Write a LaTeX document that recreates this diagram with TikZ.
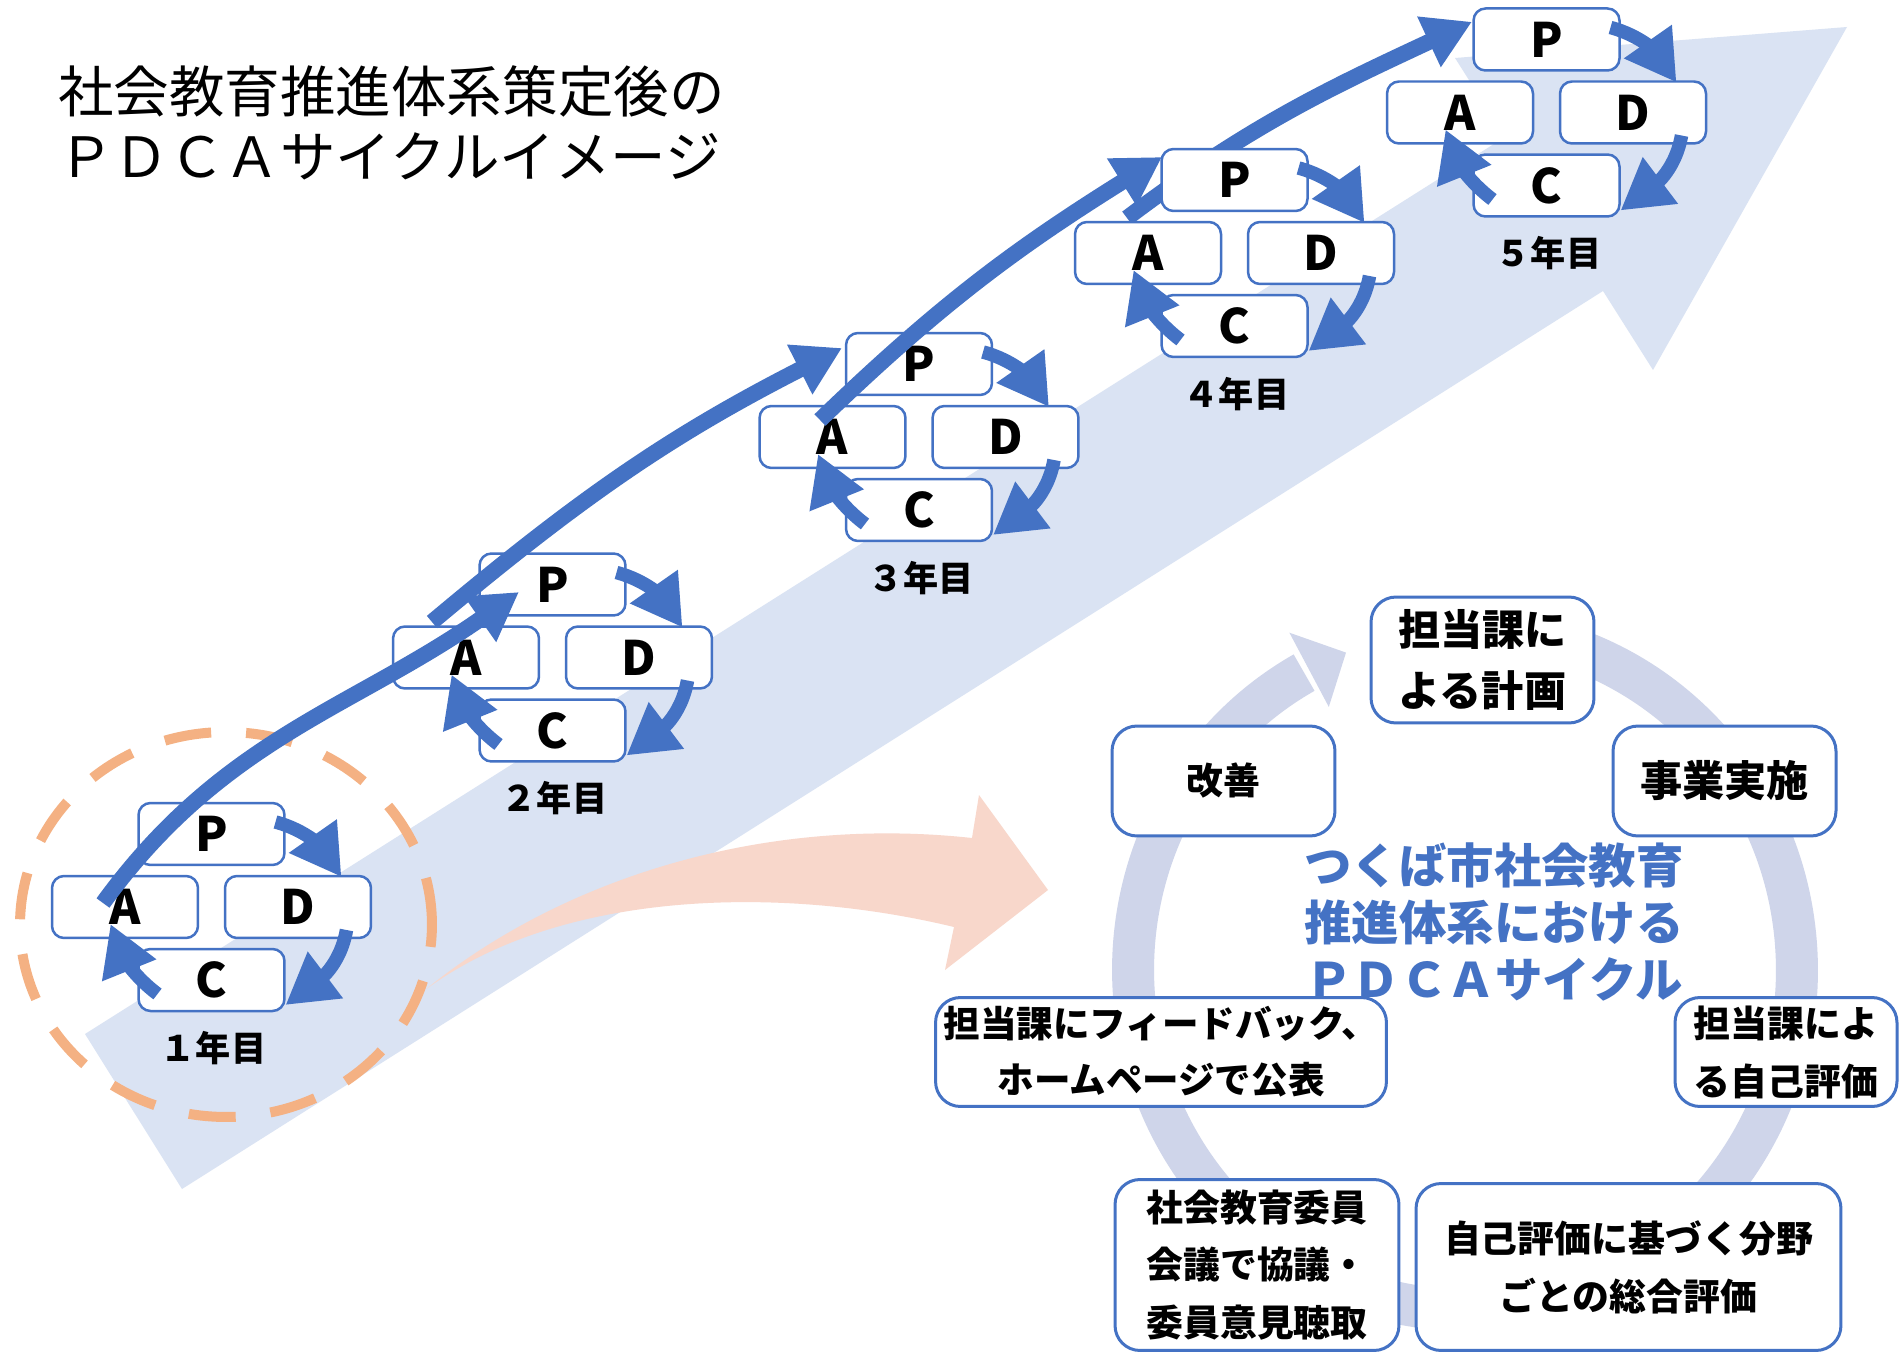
\documentclass[tikz,border=0pt]{standalone}
\usepackage{fontspec}
\setmainfont{Noto Sans CJK JP}
\usetikzlibrary{arrows.meta,calc}
\definecolor{arrblue}{HTML}{4472C4}
\definecolor{palebl}{HTML}{DAE3F3}
\definecolor{ringcol}{HTML}{CFD5EA}
\definecolor{dashor}{HTML}{F4B183}
\definecolor{salmon}{HTML}{F8D7CB}
\pgfdeclarelayer{back}
\pgfdeclarelayer{mid}
\pgfsetlayers{back,mid,main}
\newcommand{\fsz}[2]{\fontsize{#1}{#2}\selectfont}
\newcommand{\yearcluster}[4]{%
  \node[pbox] (P#1) at (#2,#3) {P};
  \node[pbox] (A#1) at ($(P#1.center)+(-86.5,-73)$) {A};
  \node[pbox] (D#1) at ($(P#1.center)+(86.5,-73)$) {D};
  \node[pbox] (C#1) at ($(P#1.center)+(0,-146)$) {C};
  \node[ylab] (L#1) at ($(P#1.center)+(2,-214)$) {#4};
}
\newcommand{\yeararrows}[1]{%
  \draw[sarr] ($(P#1.center)+(64,12)$) to[out=-15,in=125] ($(P#1.center)+(130,-43)$);
  \draw[sarr] ($(P#1.center)+(135,-96)$) to[out=-100,in=37] ($(P#1.center)+(74,-171)$);
  \draw[sarr] ($(P#1.center)+(-54,-160)$) to[out=143,in=-68] ($(P#1.center)+(-101,-90)$);
}
\begin{document}
\begin{tikzpicture}[x=0.02cm,y=0.02cm,
  pbox/.style={draw=arrblue, line width=0.05cm, fill=white, rounded corners=0.24cm,
    minimum width=2.92cm, minimum height=1.24cm, inner sep=0, font=\fsz{27}{27}\bfseries},
  ylab/.style={font=\fsz{20}{20}\bfseries, inner sep=0},
  sarr/.style={arrblue, line width=0.27cm, -{Triangle[length=1.0cm,width=1.1cm]}},
  barr/.style={arrblue, line width=0.32cm, -{Triangle[length=0.95cm,width=1.05cm]}},
  rbox/.style={draw=arrblue, line width=0.06cm, fill=white, rounded corners=0.5cm,
    inner sep=0, align=center}]
\useasboundingbox (0,0) rectangle (1903,-1354);

\begin{pgfonlayer}{back}
  \fill[white] (0,0) rectangle (1903,-1354);
  % big pale arrow
  \fill[palebl] (85,-1034) -- (1505,-137) -- (1455,-58) -- (1847,-27)
     -- (1653,-370) -- (1603,-291) -- (182,-1189) -- cycle;
  % dashed circle
  \draw[dashor, line width=0.2cm, dash pattern=on 0.94cm off 0.7cm]
     (226,-924.5) ellipse [x radius=4.12cm, y radius=3.85cm];
  % salmon arrow
  \fill[salmon] (425,-990) .. controls (560,-880) and (760,-815) .. (972,-838)
     -- (979,-795) -- (1048,-890) -- (945,-970) -- (954,-927)
     .. controls (780,-885) and (560,-890) .. (425,-990) -- cycle;
  % ring
  \draw[ringcol, line width=0.84cm] (1436.06,-631.3)
     arc[start angle=95, end angle=-241, x radius=6.64cm, y radius=6.8cm];
  \fill[ringcol] (1289.4,-632.7) -- (1346.0,-652.6) -- (1328.8,-706.9) -- cycle;
\end{pgfonlayer}

% title
\node[font=\fsz{31.6}{37}, align=left, anchor=west, inner sep=0] (title)
  at (58,-122.5) {社会教育推進体系策定後の\\ＰＤＣＡサイクルイメージ};

% right cycle boxes
\node[rbox, minimum width=4.46cm, minimum height=2.52cm, font=\fsz{24}{35}\bfseries]
  (B1) at (1482.5,-660) {担当課に\\よる計画};
\node[rbox, minimum width=4.46cm, minimum height=2.2cm, font=\fsz{24}{35}\bfseries]
  (B2) at (1724.5,-781) {事業実施};
\node[rbox, minimum width=4.46cm, minimum height=2.2cm, font=\fsz{21}{33}\bfseries]
  (B3) at (1223.5,-781) {改善};
\node[rbox, minimum width=9.02cm, minimum height=2.18cm, font=\fsz{20.8}{32}\bfseries]
  (B4) at (1161,-1052) {担当課にフィードバック、\\ホームページで公表};
\node[rbox, minimum width=4.44cm, minimum height=2.18cm, font=\fsz{21}{33}\bfseries]
  (B5) at (1786,-1052) {担当課によ\\る自己評価};
\node[rbox, minimum width=5.68cm, minimum height=3.42cm, font=\fsz{21}{32.6}\bfseries]
  (B6) at (1257,-1265) {社会教育委員\\会議で協議・\\委員意見聴取};
\node[rbox, minimum width=8.5cm, minimum height=3.34cm, font=\fsz{21}{33}\bfseries]
  (B7) at (1628.5,-1267) {自己評価に基づく分野\\ごとの総合評価};

\node[font=\fsz{27}{32.5}\bfseries, text=arrblue, align=center, inner sep=0] (ctr)
  at (1494,-922) {つくば市社会教育\\推進体系における\\ＰＤＣＡサイクル};

% year clusters
\yearcluster{1}{211.5}{-834}{１年目}
\yearcluster{2}{552.5}{-584.5}{２年目}
\yearcluster{3}{919}{-364}{３年目}
\yearcluster{4}{1234.5}{-180}{４年目}
\yearcluster{5}{1546.5}{-39.5}{５年目}

\yeararrows{1}
\yeararrows{2}
\yeararrows{3}
\yeararrows{4}
\yeararrows{5}

% long arrows between years
\draw[barr] ($(A1.center)+(-22,4)$) to[out=54,in=215] ($(P2.center)+(-33.5,-7.5)$);
\draw[barr] ($(A2.center)+(-34,35.5)$) to[out=40,in=207] ($(P3.center)+(-77,16)$);
\draw[barr] ($(A3.center)+(-12.5,17)$) to[out=44,in=212] ($(P4.center)+(-72.5,23)$);
\begin{pgfonlayer}{mid}
\draw[barr] ($(A4.center)+(-21,35)$) to[out=37,in=205] ($(P5.center)+(-74.5,17.7)$);
\end{pgfonlayer}
\end{tikzpicture}
\end{document}
